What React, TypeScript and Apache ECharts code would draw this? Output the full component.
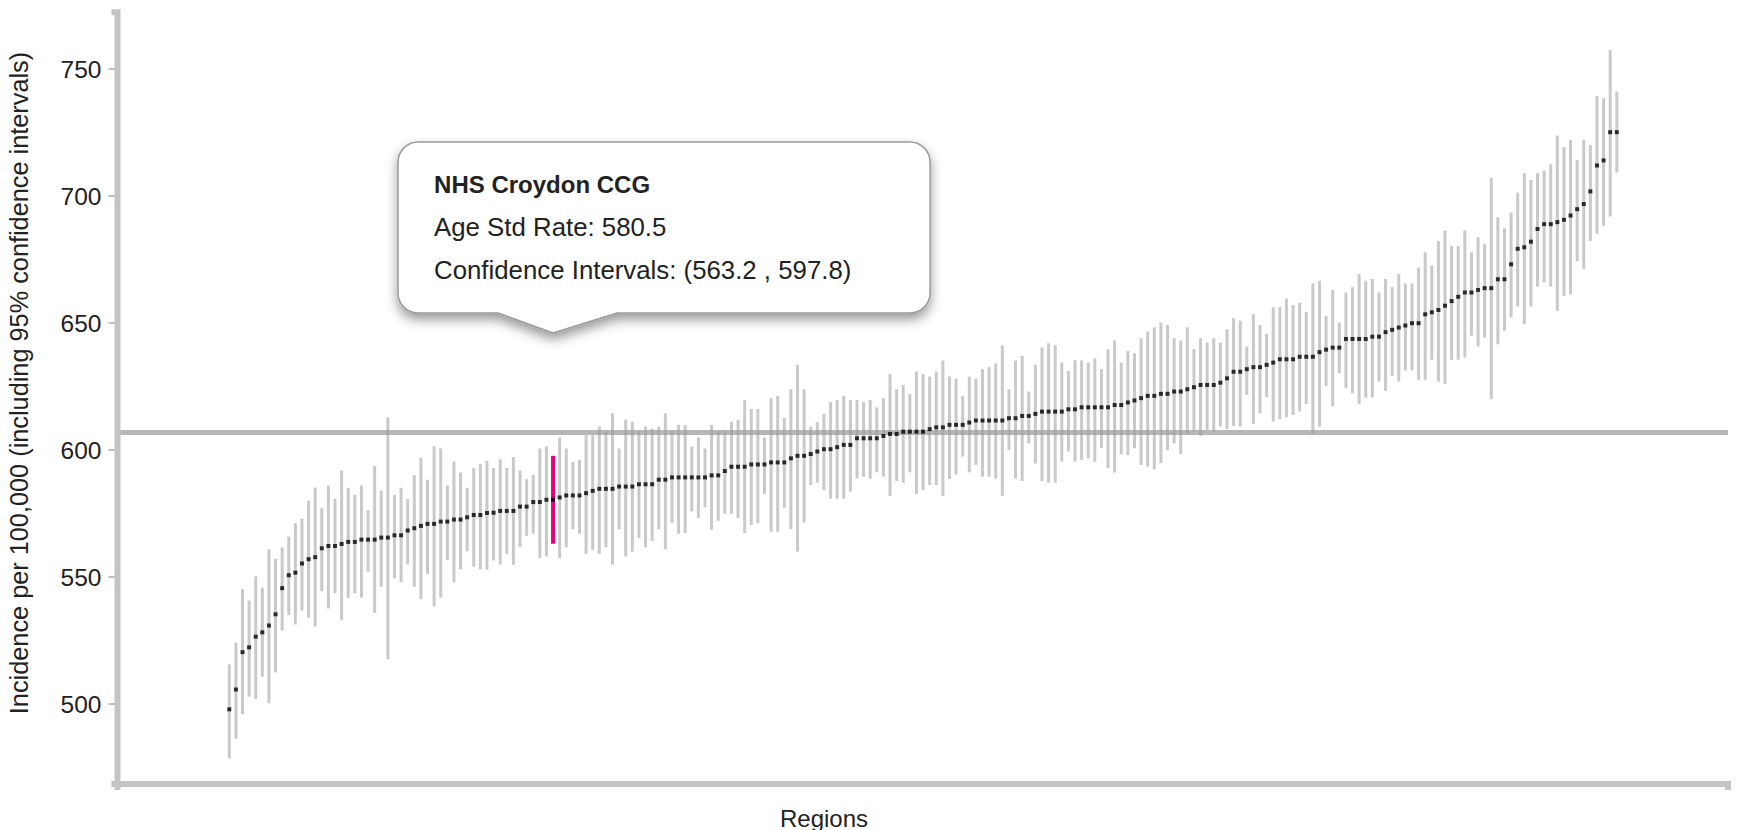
import React, { useEffect, useRef } from "react";
import * as echarts from "echarts";

// ---- data (regions sorted by age-standardised rate) ----
const lowerCI = [
  478.7, 486.4, 496.1, 503.0, 502.0, 510.8, 500.4, 512.5, 529.0, 535.2,
  531.4, 536.9, 534.1, 530.6, 544.5, 537.7, 543.7, 533.2, 541.9, 543.7,
  542.0, 552.2, 536.0, 546.2, 517.7, 549.6, 548.0, 555.0, 546.2, 541.3,
  551.3, 538.5, 542.0, 556.7, 548.0, 553.1, 560.2, 554.1, 553.1, 553.0,
  556.6, 555.0, 559.2, 554.9, 561.8, 566.3, 567.1, 557.5, 558.2, 563.2,
  557.5, 561.8, 568.9, 567.1, 559.2, 560.8, 559.2, 561.8, 554.9, 568.9,
  558.2, 560.1, 565.4, 561.8, 564.3, 568.9, 561.0, 571.3, 567.1, 567.4,
  575.9, 573.3, 577.6, 568.7, 572.2, 575.0, 575.0, 573.3, 567.4, 570.6,
  571.3, 582.8, 567.9, 567.9, 577.4, 568.9, 560.1, 571.5, 586.3, 587.2,
  584.3, 580.9, 580.9, 580.9, 583.7, 588.9, 589.6, 588.8, 591.3, 589.6,
  582.0, 587.9, 587.2, 591.3, 582.8, 584.3, 586.3, 586.3, 582.0, 588.7,
  590.5, 597.5, 591.3, 594.2, 589.6, 589.6, 588.8, 582.0, 600.1, 588.9,
  587.9, 602.7, 594.8, 587.9, 587.2, 587.2, 595.5, 599.5, 595.5, 596.2,
  596.8, 595.5, 600.8, 592.9, 591.2, 598.4, 598.1, 600.8, 594.2, 593.5,
  592.5, 594.9, 600.1, 602.7, 598.5, 606.4, 607.3, 605.6, 608.0, 607.3,
  609.3, 608.3, 609.5, 609.3, 621.8, 610.3, 614.6, 620.9, 611.3, 612.2,
  613.0, 613.9, 615.2, 618.2, 606.4, 609.3, 625.3, 617.3, 630.3, 624.4,
  622.4, 618.2, 620.7, 620.7, 627.0, 623.4, 629.3, 627.0, 631.4, 631.4,
  627.7, 627.7, 635.6, 627.0, 626.1, 635.6, 635.6, 636.5, 645.1, 640.8,
  644.3, 620.1, 641.7, 647.0, 652.2, 656.6, 649.6, 656.6, 664.4, 666.1,
  664.4, 654.9, 660.8, 661.4, 674.5, 671.4, 682.4, 685.2, 688.3, 692.0,
  709.3,
];

const rate = [
  498.0, 505.8, 520.5, 522.4, 526.6, 528.3, 531.0, 535.4, 545.7, 550.8,
  551.8, 555.4, 557.1, 557.9, 561.4, 562.3, 562.3, 563.1, 563.9, 563.9,
  564.8, 564.8, 564.8, 565.6, 565.6, 566.5, 566.5, 568.4, 569.3, 570.2,
  571.0, 571.0, 571.9, 571.9, 572.7, 572.7, 573.6, 574.5, 574.5, 575.3,
  575.4, 576.1, 576.1, 576.1, 577.8, 577.8, 579.6, 579.6, 580.5, 580.5,
  581.4, 582.2, 582.2, 582.2, 583.1, 584.0, 584.8, 584.8, 584.8, 585.7,
  585.7, 585.7, 586.6, 586.6, 586.6, 588.4, 588.4, 589.3, 589.3, 589.3,
  589.3, 589.3, 589.3, 590.1, 590.1, 591.8, 593.5, 593.5, 593.5, 594.4,
  594.4, 594.4, 595.2, 595.2, 595.2, 596.8, 597.8, 597.8, 598.5, 599.5,
  600.4, 600.4, 601.2, 602.1, 602.1, 604.7, 604.7, 604.7, 604.7, 605.6,
  606.4, 606.4, 607.3, 607.3, 607.3, 607.3, 608.3, 609.0, 609.0, 610.0,
  610.0, 610.0, 610.9, 611.7, 611.7, 611.7, 611.7, 611.7, 612.6, 612.6,
  613.5, 613.5, 614.3, 615.2, 615.2, 615.2, 615.2, 616.1, 616.1, 616.9,
  616.9, 616.9, 616.9, 616.9, 617.8, 617.8, 618.8, 619.6, 620.5, 621.4,
  621.4, 622.2, 622.2, 623.1, 623.1, 624.0, 624.8, 625.7, 625.7, 625.7,
  626.6, 628.3, 630.9, 630.9, 631.9, 632.7, 632.7, 633.6, 634.5, 635.8,
  635.8, 635.8, 636.8, 636.8, 636.8, 638.6, 639.6, 640.4, 640.4, 643.8,
  643.8, 643.8, 643.8, 644.7, 644.7, 646.5, 647.4, 648.3, 649.1, 650.0,
  650.0, 653.5, 654.3, 655.2, 656.9, 658.7, 660.4, 662.1, 662.1, 663.1,
  663.8, 663.8, 667.3, 667.3, 673.2, 679.3, 679.9, 682.1, 687.1, 689.0,
  689.0, 689.8, 690.7, 692.4, 694.9, 696.9, 701.9, 712.1, 714.1, 725.2,
  725.2,
];

const upperCI = [
  515.7, 524.3, 545.3, 540.8, 550.3, 545.9, 561.0, 557.2, 561.8, 566.0,
  571.3, 573.0, 580.1, 585.3, 577.2, 586.1, 580.8, 592.0, 585.2, 582.4,
  586.1, 576.4, 593.8, 584.1, 612.9, 582.4, 585.2, 580.8, 590.2, 597.1,
  588.4, 601.6, 600.7, 586.1, 595.5, 591.2, 585.2, 592.9, 594.6, 595.8,
  593.0, 596.4, 593.0, 597.3, 592.0, 588.6, 590.2, 600.7, 601.5, 597.8,
  605.0, 600.7, 595.4, 596.2, 605.9, 605.9, 609.3, 607.4, 614.6, 600.7,
  612.0, 611.2, 607.6, 609.3, 608.5, 609.3, 614.6, 607.6, 610.0, 610.0,
  601.5, 605.0, 600.7, 610.0, 607.4, 607.6, 611.2, 612.0, 619.8, 616.2,
  616.2, 605.0, 620.5, 621.4, 612.8, 624.0, 633.6, 624.0, 609.3, 611.0,
  614.3, 619.0, 619.8, 621.4, 619.8, 619.8, 619.0, 619.8, 616.9, 620.5,
  630.0, 624.0, 625.7, 622.2, 631.0, 630.0, 629.0, 631.0, 635.3, 629.0,
  628.2, 621.4, 629.0, 628.2, 631.9, 632.7, 634.2, 641.3, 624.0, 635.3,
  637.1, 623.1, 633.6, 640.5, 642.1, 641.3, 634.5, 631.2, 635.4, 635.4,
  634.5, 636.2, 631.9, 639.8, 643.2, 634.5, 639.1, 638.2, 644.1, 646.7,
  648.4, 650.3, 649.3, 644.1, 643.2, 648.4, 639.8, 644.1, 642.4, 644.1,
  642.4, 647.6, 652.0, 651.0, 640.8, 653.7, 649.3, 645.8, 656.3, 656.3,
  659.7, 657.2, 658.1, 654.4, 665.7, 666.7, 652.9, 663.1, 650.3, 662.1,
  664.2, 669.3, 666.7, 667.4, 662.1, 667.4, 664.2, 669.3, 665.7, 665.7,
  671.9, 677.9, 672.7, 682.4, 686.5, 680.4, 680.4, 686.5, 677.9, 683.9,
  681.2, 707.3, 691.7, 687.4, 693.6, 701.4, 709.1, 706.4, 709.1, 710.1,
  712.6, 723.9, 719.3, 722.2, 714.3, 722.2, 720.2, 739.5, 738.6, 757.6,
  741.2,
];

const yTickValues = [500, 550, 600, 650, 700, 750];
const englandRate = 607;
const highlightIndex = 49;
const highlightName = "NHS Croydon CCG";
const yTitle = "Incidence per 100,000 (including 95% confidence intervals)";
const xTitle = "Regions";

// ---- layout ----
const W = 1754;
const H = 830;
const GRID = { left: 117.5, right: 26, top: 12.3, bottom: 46 };
const X_MIN = -16.92;
const X_MAX = 226.83;
const Y_MIN = 468.6;
const Y_MAX = 772.4;

const FONT = '"Liberation Sans", Arial, Helvetica, sans-serif';
const AXIS_GREY = "#c4c4c4";
const BAR_GREY = "#c9c9c9";
const PINK = "#e6007e";

// callout shape
const BOX_W = 532;
const BOX_H = 171;
const R = 20;
const APEX_OFF = 155;
const PTR_L = 55;
const PTR_R = 64;
const PTR_H = 20;
const calloutPath =
  `M${R},0 H${BOX_W - R} A${R},${R} 0 0 1 ${BOX_W},${R} V${BOX_H - R} ` +
  `A${R},${R} 0 0 1 ${BOX_W - R},${BOX_H} H${APEX_OFF + PTR_R} L${APEX_OFF},${BOX_H + PTR_H} ` +
  `L${APEX_OFF - PTR_L},${BOX_H} H${R} A${R},${R} 0 0 1 0,${BOX_H - R} V${R} A${R},${R} 0 0 1 ${R},0 Z`;

let registered = false;
function ensureShape() {
  if (registered) return;
  echarts.graphic.registerShape("callout", echarts.graphic.extendPath(calloutPath, {}));
  registered = true;
}

export default function App() {
  const ref = useRef<HTMLDivElement>(null);

  useEffect(() => {
    if (!ref.current) return;
    ensureShape();
    const chart = echarts.init(ref.current, null, { renderer: "svg", width: W, height: H });

    const barData = lowerCI.map((lo, i) => [i, lo, upperCI[i]]);
    const pointData = rate.map((r, i) => [i, r]);

    chart.setOption({
      animation: false,
      textStyle: { fontFamily: FONT },
      grid: { left: GRID.left, right: GRID.right, top: GRID.top, bottom: GRID.bottom, containLabel: false },
      xAxis: {
        type: "value",
        min: X_MIN,
        max: X_MAX,
        show: false,
        axisLine: { onZero: false },
      },
      yAxis: {
        type: "value",
        min: Y_MIN,
        max: Y_MAX,
        position: "left",
        axisLine: { show: false, onZero: false },
        splitLine: { show: false },
        axisTick: {
          show: true,
          length: 9,
          customValues: yTickValues,
          lineStyle: { color: "#a8a8a8", width: 1.5 },
        },
        axisLabel: {
          show: true,
          customValues: yTickValues,
          margin: 16,
          fontSize: 24.5,
          color: "#222",
          fontFamily: FONT,
        },
      },
      series: [
        {
          type: "custom",
          name: "ci",
          z: 2,
          silent: true,
          data: barData,
          encode: { x: 0, y: [1, 2] },
          renderItem: (params: any, api: any) => {
            const i = api.value(0);
            const lo = api.coord([i, api.value(1)]);
            const hi = api.coord([i, api.value(2)]);
            const hl = i === highlightIndex;
            const w = hl ? 4 : 3;
            return {
              type: "rect",
              shape: { x: lo[0] - w / 2, y: hi[1], width: w, height: lo[1] - hi[1] },
              style: { fill: hl ? PINK : BAR_GREY },
            };
          },
        },
        {
          type: "custom",
          name: "england",
          z: 3,
          silent: true,
          data: [[X_MIN, X_MAX, englandRate]],
          encode: { x: [0, 1], y: 2 },
          renderItem: (params: any, api: any) => {
            const p1 = api.coord([api.value(0), api.value(2)]);
            const p2 = api.coord([api.value(1), api.value(2)]);
            return {
              type: "line",
              shape: { x1: p1[0], y1: p1[1], x2: p2[0], y2: p2[1] },
              style: { stroke: "#999999", lineWidth: 5, opacity: 0.7 },
            };
          },
        },
        {
          type: "scatter",
          name: "rate",
          z: 4,
          silent: true,
          symbol: "rect",
          symbolSize: 4,
          itemStyle: { color: "#000" },
          data: pointData,
        },
      ],
    });

    const left = GRID.left;
    const top = GRID.top;
    const right = W - GRID.right;
    const bottom = H - GRID.bottom;
    const apex = chart.convertToPixel({ gridIndex: 0 }, [highlightIndex, upperCI[highlightIndex]]) as number[];
    const boxX = apex[0] - APEX_OFF;
    const boxY = 142;
    const textX = boxX + 36;

    chart.setOption({
      graphic: [
        {
          type: "polyline",
          z: 10,
          silent: true,
          shape: { points: [[left - 6, top], [left, top], [left, bottom], [left - 6, bottom]] },
          style: { stroke: AXIS_GREY, lineWidth: 6, fill: null, lineJoin: "miter", lineCap: "butt" },
        },
        {
          type: "polyline",
          z: 10,
          silent: true,
          shape: { points: [[left, bottom + 6], [left, bottom], [right, bottom], [right, bottom + 6]] },
          style: { stroke: AXIS_GREY, lineWidth: 6, fill: null, lineJoin: "miter", lineCap: "butt" },
        },
        {
          type: "text",
          z: 10,
          x: 19,
          y: 383,
          rotation: Math.PI / 2,
          silent: true,
          style: {
            text: yTitle,
            fontSize: 25.3,
            fontFamily: FONT,
            fill: "#222",
            align: "center",
            verticalAlign: "middle",
          },
        },
        {
          type: "text",
          z: 10,
          x: 824,
          y: 818,
          silent: true,
          style: {
            text: xTitle,
            fontSize: 24,
            fontFamily: FONT,
            fill: "#222",
            align: "center",
            verticalAlign: "middle",
          },
        },
        {
          type: "callout",
          z: 20,
          x: boxX,
          y: boxY,
          silent: true,
          style: {
            fill: "#ffffff",
            stroke: "#9a9a9a",
            lineWidth: 1.5,
            shadowBlur: 12,
            shadowOffsetY: 6,
            shadowColor: "rgba(0,0,0,0.4)",
          },
        },
        {
          type: "text",
          z: 21,
          x: textX,
          y: 184,
          silent: true,
          style: {
            text: highlightName,
            fontSize: 24,
            fontWeight: "bold",
            fontFamily: FONT,
            fill: "#222",
            align: "left",
            verticalAlign: "middle",
          },
        },
        {
          type: "text",
          z: 21,
          x: textX,
          y: 227,
          silent: true,
          style: {
            text: `Age Std Rate: ${rate[highlightIndex]}`,
            fontSize: 25.8,
            fontFamily: FONT,
            fill: "#222",
            align: "left",
            verticalAlign: "middle",
          },
        },
        {
          type: "text",
          z: 21,
          x: textX,
          y: 270,
          silent: true,
          style: {
            text: `Confidence Intervals: (${lowerCI[highlightIndex]} , ${upperCI[highlightIndex]})`,
            fontSize: 25.8,
            fontFamily: FONT,
            fill: "#222",
            align: "left",
            verticalAlign: "middle",
          },
        },
      ],
    });

    return () => {
      chart.dispose();
    };
  }, []);

  return (
    <div
      ref={ref}
      style={{ position: "absolute", left: 0, top: 0, width: W, height: H, background: "#fff" }}
    />
  );
}
